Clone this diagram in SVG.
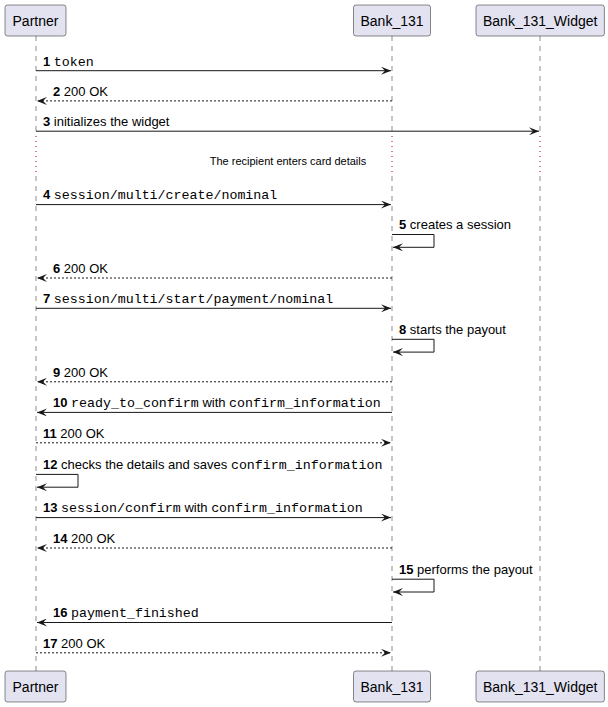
<svg xmlns="http://www.w3.org/2000/svg" width="608" height="707" viewBox="0 0 608 707">
<style>
.box{fill:#E2E2F0;stroke:#181818;stroke-width:0.5}
.pt{font-family:"Liberation Sans",Arial,sans-serif;font-size:14px;fill:#000}
.life{stroke:#181818;stroke-width:0.5;stroke-dasharray:5,5;fill:none}
.delay{stroke:#A80036;stroke-width:1;stroke-dasharray:1,4;fill:none}
.msg{stroke:#181818;stroke-width:1;fill:none;marker-end:url(#ah)}
.ret{stroke-dasharray:2,2}
.t{font-family:"Liberation Sans",Arial,sans-serif;font-size:13px;fill:#000}
.n{font-weight:bold}
.m{font-family:"Liberation Mono","Courier New",monospace;font-size:13.3px}
.dt{font-family:"Liberation Sans",Arial,sans-serif;font-size:11px;fill:#000}
</style>
<defs>
<marker id="ah" viewBox="0 0 10 8" refX="10" refY="4" markerWidth="10" markerHeight="8" markerUnits="userSpaceOnUse" orient="auto">
<path d="M0,0 L10,4 L0,8 L4,4 Z" fill="#181818" stroke="none"/>
</marker>
</defs>
<g id="partner">
<line class="life" x1="36" y1="36" x2="36" y2="136"/>
<line class="delay" x1="36" y1="136" x2="36" y2="176"/>
<line class="life" x1="36" y1="176" x2="36" y2="671"/>
<rect class="box" x="5" y="5" width="61" height="31" rx="2.5"/>
<text class="pt" x="35.5" y="25.5" text-anchor="middle">Partner</text>
<rect class="box" x="5" y="671" width="61" height="31" rx="2.5"/>
<text class="pt" x="35.5" y="691.5" text-anchor="middle">Partner</text>
</g>
<g id="bank_131">
<line class="life" x1="392" y1="36" x2="392" y2="136"/>
<line class="delay" x1="392" y1="136" x2="392" y2="176"/>
<line class="life" x1="392" y1="176" x2="392" y2="671"/>
<rect class="box" x="353.5" y="5" width="77" height="31" rx="2.5"/>
<text class="pt" x="392" y="25.5" text-anchor="middle">Bank_131</text>
<rect class="box" x="353.5" y="671" width="77" height="31" rx="2.5"/>
<text class="pt" x="392" y="691.5" text-anchor="middle">Bank_131</text>
</g>
<g id="bank_131_widget">
<line class="life" x1="540" y1="36" x2="540" y2="136"/>
<line class="delay" x1="540" y1="136" x2="540" y2="176"/>
<line class="life" x1="540" y1="176" x2="540" y2="671"/>
<rect class="box" x="476" y="5" width="128.4" height="31" rx="2.5"/>
<text class="pt" x="540.2" y="25.5" text-anchor="middle">Bank_131_Widget</text>
<rect class="box" x="476" y="671" width="128.4" height="31" rx="2.5"/>
<text class="pt" x="540.2" y="691.5" text-anchor="middle">Bank_131_Widget</text>
</g>
<g id="delay">
<text class="dt" x="288" y="164.5" text-anchor="middle">The recipient enters card details</text>
</g>
<g id="connectors">
<line class="msg" x1="36" y1="70.7" x2="391" y2="70.7"/>
<text class="t" x="43" y="65.5"><tspan class="n">1</tspan> <tspan class="m">token</tspan></text>

<line class="msg ret" x1="392" y1="100.9" x2="37" y2="100.9"/>
<text class="t" x="53" y="95.7"><tspan class="n">2</tspan> 200 OK</text>

<line class="msg" x1="36" y1="131.2" x2="539" y2="131.2"/>
<text class="t" x="43" y="126"><tspan class="n">3</tspan> initializes the widget</text>

<line class="msg" x1="36" y1="204.6" x2="391" y2="204.6"/>
<text class="t" x="43" y="199.4"><tspan class="n">4</tspan> <tspan class="m">session/multi/create/nominal</tspan></text>

<polyline class="msg" points="392,234.5 434,234.5 434,247.3 393,247.3"/>
<text class="t" x="399" y="228.8"><tspan class="n">5</tspan> creates a session</text>

<line class="msg ret" x1="392" y1="278" x2="37" y2="278"/>
<text class="t" x="53" y="272.8"><tspan class="n">6</tspan> 200 OK</text>

<line class="msg" x1="36" y1="308.3" x2="391" y2="308.3"/>
<text class="t" x="43" y="303.1"><tspan class="n">7</tspan> <tspan class="m">session/multi/start/payment/nominal</tspan></text>

<polyline class="msg" points="392,339.3 434,339.3 434,352.1 393,352.1"/>
<text class="t" x="399" y="333.6"><tspan class="n">8</tspan> starts the payout</text>

<line class="msg ret" x1="392" y1="381.8" x2="37" y2="381.8"/>
<text class="t" x="53" y="376.6"><tspan class="n">9</tspan> 200 OK</text>

<line class="msg" x1="392" y1="412.4" x2="37" y2="412.4"/>
<text class="t" x="53" y="407.2"><tspan class="n">10</tspan> <tspan class="m">ready_to_confirm</tspan> with <tspan class="m">confirm_information</tspan></text>

<line class="msg ret" x1="36" y1="442.8" x2="391" y2="442.8"/>
<text class="t" x="43" y="437.6"><tspan class="n">11</tspan> 200 OK</text>

<polyline class="msg" points="36,474.4 78,474.4 78,487.2 37,487.2"/>
<text class="t" x="43" y="468.7"><tspan class="n">12</tspan> checks the details and saves <tspan class="m">confirm_information</tspan></text>

<line class="msg" x1="36" y1="517.6" x2="391" y2="517.6"/>
<text class="t" x="43" y="512.4"><tspan class="n">13</tspan> <tspan class="m">session/confirm</tspan> with <tspan class="m">confirm_information</tspan></text>

<line class="msg ret" x1="392" y1="548" x2="37" y2="548"/>
<text class="t" x="53" y="542.8"><tspan class="n">14</tspan> 200 OK</text>

<polyline class="msg" points="392,579.2 434,579.2 434,592 393,592"/>
<text class="t" x="399" y="573.5"><tspan class="n">15</tspan> performs the payout</text>

<line class="msg" x1="392" y1="622.5" x2="37" y2="622.5"/>
<text class="t" x="53" y="617.3"><tspan class="n">16</tspan> <tspan class="m">payment_finished</tspan></text>

<line class="msg ret" x1="36" y1="652.8" x2="391" y2="652.8"/>
<text class="t" x="43" y="647.6"><tspan class="n">17</tspan> 200 OK</text>
</g>
</svg>
